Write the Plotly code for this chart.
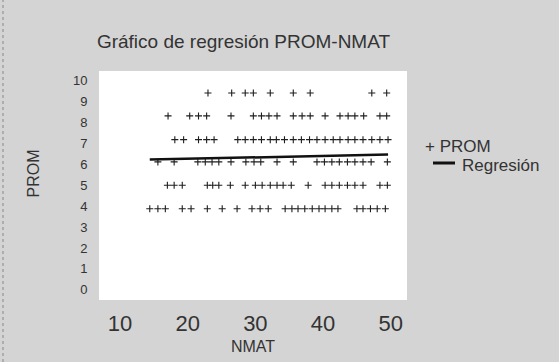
import plotly.graph_objects as go

# ---- data ----
prom_levels = [9.38, 8.29, 7.16, 6.10, 4.99, 3.87]

nmat_row9 = [23.0, 26.5, 28.5, 29.7, 32.2, 35.6, 38.1, 47.2, 49.4]
nmat_row8 = [17.1, 20.3, 21.6, 22.8, 26.4, 29.7, 30.9, 32.0, 33.2, 35.6, 36.9,
             38.1, 40.3, 42.5, 43.7, 44.7, 46.0, 48.4, 49.4]
nmat_row7 = [18.1, 19.4, 21.6, 22.8, 23.9, 27.4, 28.5, 29.7, 30.9, 32.2, 33.1,
             34.3, 35.6, 36.8, 38.0, 39.1, 40.3, 41.5, 42.5, 43.7, 44.7, 45.9,
             47.2, 48.4, 49.6]
nmat_row6 = [15.6, 18.0, 21.5, 22.6, 23.6, 24.6, 26.4, 28.6, 29.8, 30.8, 33.2,
             35.6, 39.1, 40.2, 41.3, 42.4, 43.6, 44.7, 45.9, 47.1, 49.5]
nmat_row5 = [17.0, 18.0, 19.2, 22.9, 23.7, 24.6, 26.3, 28.5, 30.0, 31.0, 32.2,
             33.2, 34.1, 35.3, 37.8, 40.3, 41.3, 42.4, 43.6, 44.7, 45.9, 48.4, 49.5]
nmat_row4 = [14.4, 15.6, 16.7, 19.2, 20.5, 22.9, 25.1, 27.3, 29.5, 30.7, 31.9,
             34.4, 35.4, 36.3, 37.3, 38.4, 39.4, 40.3, 41.3, 42.2, 45.0, 45.9,
             47.0, 48.0, 49.2]

reg_x = [14.4, 49.6]
reg_y = [6.21, 6.45]

x_ticks = [10, 20, 30, 40, 50]
y_ticks = list(range(0, 11))

title_text = "Gráfico de regresión PROM-NMAT"
x_title = "NMAT"
y_title = "PROM"
legend_prom = "+ PROM"
legend_reg = "Regresión"

# ---- build ----
rows = [nmat_row9, nmat_row8, nmat_row7, nmat_row6, nmat_row5, nmat_row4]
xs, ys = [], []
for lvl, row in zip(prom_levels, rows):
    xs += row
    ys += [lvl] * len(row)

FONT = "Liberation Sans, Arial, sans-serif"
TXT = "#333333"
BG = "#d4d4d4"

W, H = 559, 362
L, R, T, B = 99, 407, 71, 300
PW, PH = R - L, B - T


def px(xp):
    return (xp - L) / PW


def py(yp):
    return (B - yp) / PH


fig = go.Figure()
fig.add_trace(go.Scatter(
    x=xs, y=ys, mode="markers", name="PROM",
    marker=dict(symbol="cross-thin", size=5, color="#1e1e1e",
                line=dict(width=1.1, color="#1e1e1e")),
    showlegend=False,
))
fig.add_trace(go.Scatter(
    x=reg_x, y=reg_y, mode="lines", name="Regresión",
    line=dict(color="#111111", width=2.5),
    showlegend=False,
))

fig.update_layout(
    width=W, height=H,
    margin=dict(l=L, r=W - R, t=T, b=H - B, autoexpand=False),
    paper_bgcolor=BG,
    plot_bgcolor="#ffffff",
    font=dict(family=FONT, color=TXT),
    title=dict(text=title_text, x=243.5 / W, xref="container", xanchor="center",
               y=1 - 41 / H, yref="container", yanchor="middle",
               font=dict(size=19, color=TXT, family=FONT)),
    xaxis=dict(range=[6.9, 52.4], tickvals=x_ticks, showgrid=False, zeroline=False,
               showline=False, ticks="outside", ticklen=4, tickcolor="rgba(0,0,0,0)",
               tickfont=dict(size=22, color=TXT),
               title=dict(text=x_title, font=dict(size=16, color=TXT), standoff=5),
               automargin=False),
    yaxis=dict(range=[-0.48, 10.43], tickvals=y_ticks, showgrid=False, zeroline=False,
               showline=False, ticks="outside", ticklen=8, tickcolor="rgba(0,0,0,0)",
               tickfont=dict(size=13, color=TXT),
               automargin=False),
    annotations=[
        dict(text=y_title, xref="paper", yref="paper", x=px(32.5), y=py(174),
             xanchor="center", yanchor="middle", textangle=-90, showarrow=False,
             font=dict(size=16, color=TXT, family=FONT)),
        dict(text=legend_prom, xref="paper", yref="paper", x=px(423),
             y=py(146), xanchor="left", yanchor="middle", showarrow=False,
             font=dict(size=17, color=TXT, family=FONT)),
        dict(text=legend_reg, xref="paper", yref="paper", x=px(460),
             y=py(165), xanchor="left", yanchor="middle", showarrow=False,
             font=dict(size=17, color=TXT, family=FONT)),
    ],
    shapes=[
        dict(type="line", xref="paper", yref="paper", x0=px(433), x1=px(455),
             y0=py(163), y1=py(163), line=dict(color="#111111", width=3)),
        dict(type="line", xref="paper", yref="paper", x0=px(3), x1=px(3),
             y0=py(H), y1=py(0), line=dict(color="#888888", width=1, dash="dot")),
    ],
)

fig.write_html(
    "out.html",
    config={"displayModeBar": False},
    post_script="document.body.style.margin='0';document.body.style.overflow='hidden';"
                "document.body.style.background='" + BG + "';",
)
